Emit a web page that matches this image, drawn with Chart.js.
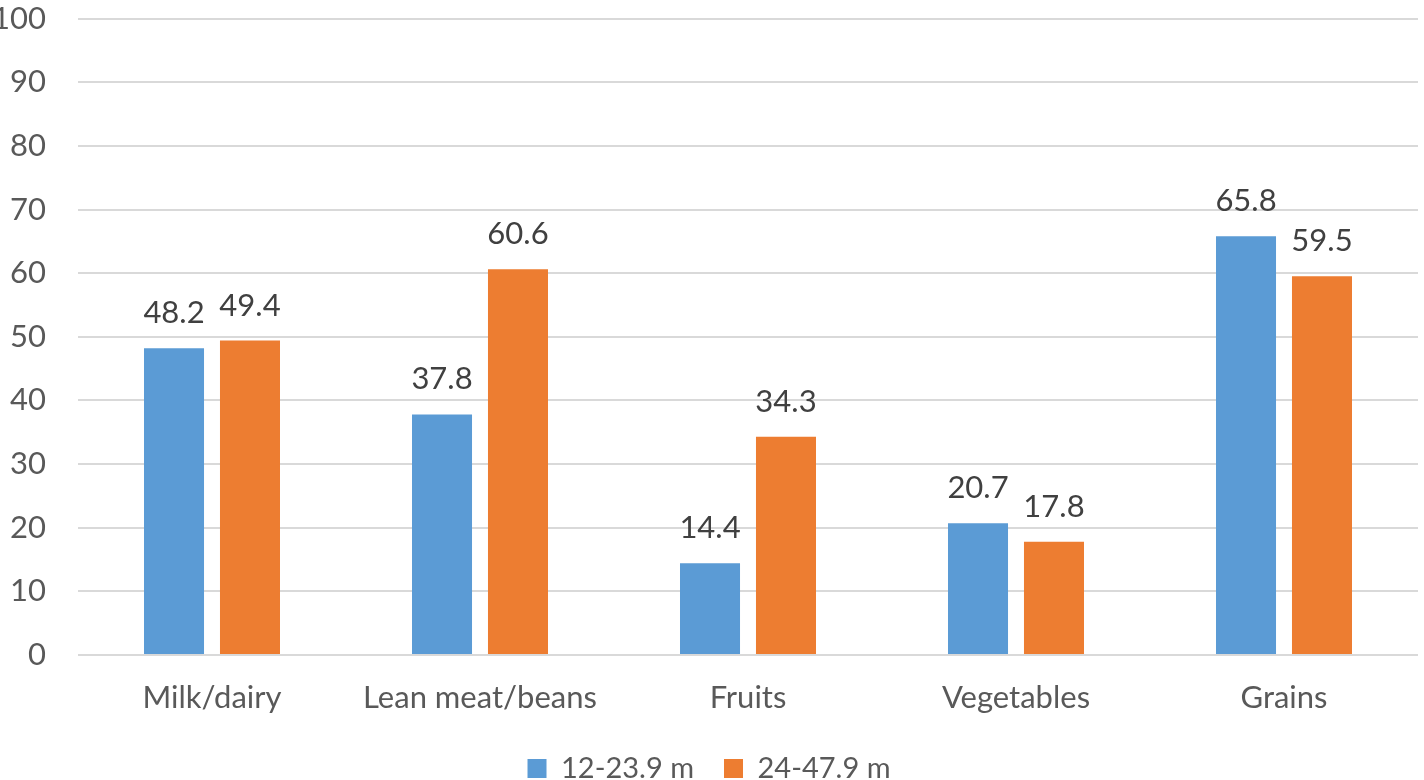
<!DOCTYPE html>
<html><head><meta charset="utf-8">
<script src="https://cdn.jsdelivr.net/npm/chart.js@4.4.1/dist/chart.umd.min.js"></script>
<style>html,body{margin:0;padding:0;overflow:hidden;background:#fff;width:1424px;height:780px}#wrap{width:1424px;height:825px;position:relative;margin-top:-32px}</style>
</head><body><div id="wrap"><canvas id="c"></canvas></div>
<script>
const categories = ["Milk/dairy", "Lean meat/beans", "Fruits", "Vegetables", "Grains"];
const series1Name = "12-23.9 m";
const series1 = [48.2, 37.8, 14.4, 20.7, 65.8];
const series2Name = "24-47.9 m";
const series2 = [49.4, 60.6, 34.3, 17.8, 59.5];
const yTicks = [0, 10, 20, 30, 40, 50, 60, 70, 80, 90, 100];

const FONT = "Lato, 'Noto Sans', sans-serif";
const FS = 31;

const valueLabels = {
  id: 'valueLabels',
  afterDatasetsDraw(chart) {
    const ctx = chart.ctx;
    ctx.save();
    ctx.font = FS + "px " + FONT;
    ctx.fillStyle = "#404040";
    ctx.textAlign = "center";
    ctx.textBaseline = "middle";
    chart.data.datasets.forEach((ds, i) => {
      const meta = chart.getDatasetMeta(i);
      meta.data.forEach((bar, j) => {
        ctx.fillText(ds.data[j].toFixed(1), bar.x, bar.y - 35);
      });
    });
    ctx.restore();
  }
};

new Chart(document.getElementById('c'), {
  type: 'bar',
  data: {
    labels: categories,
    datasets: [
      { label: series1Name, data: series1, backgroundColor: '#5B9BD5', categoryPercentage: 0.567, barPercentage: 0.79 },
      { label: series2Name, data: series2, backgroundColor: '#ED7D31', categoryPercentage: 0.567, barPercentage: 0.79 }
    ]
  },
  options: {
    responsive: true,
    maintainAspectRatio: false,
    animation: false,
    layout: { padding: { left: 0, right: 6, top: -28, bottom: 0 } },
    plugins: {
      legend: {
        position: 'bottom',
        labels: { font: { family: FONT, size: 29 }, color: '#595959', boxWidth: 19, boxHeight: 19, padding: 30 }
      },
      tooltip: { enabled: false }
    },
    scales: {
      x: {
        afterFit(axis) { axis.height = axis.height - 8; },
        grid: { display: false },
        border: { display: false },
        ticks: { font: { family: FONT, size: FS, lineHeight: 1.0 }, color: '#595959', padding: 19 }
      },
      y: {
        min: 0, max: 100,
        afterBuildTicks(axis) { axis.ticks = yTicks.map(v => ({ value: v })); },
        afterFit(axis) { axis.width = 78; },
        grid: { color: '#d9d9d9', lineWidth: 2, drawTicks: false },
        border: { display: false },
        ticks: { font: { family: FONT, size: FS }, color: '#595959', padding: 32 }
      }
    }
  },
  plugins: [valueLabels]
});
</script></body></html>
